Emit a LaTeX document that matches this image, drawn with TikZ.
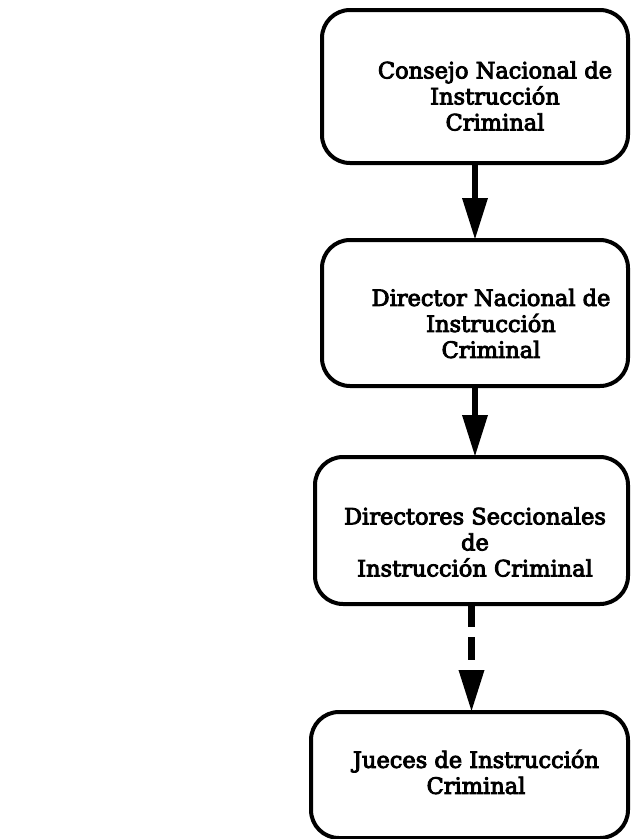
\documentclass[tikz,border=0pt]{standalone}
\usepackage{fontspec}
\setmainfont[FakeBold=4]{DejaVu Serif}
\usetikzlibrary{arrows.meta}

\tikzset{
  orgbox/.style={draw=black, line width=4pt, rounded corners=28pt,
    rectangle, inner sep=0pt, outer sep=0pt},
  orgtext/.style={align=center, inner sep=0pt,
    font=\fontsize{22.5}{26}\selectfont},
  link/.style={line width=6.5pt, draw=black},
  headtip/.style={-{Triangle[width=24pt,length=42pt]}},
}

\begin{document}
\begin{tikzpicture}[x=1pt, y=-1pt]
  \useasboundingbox (0,0) rectangle (630,839);

  % the four levels of the hierarchy
  \node[orgbox, minimum width=306pt, minimum height=153pt] (b1) at (475,86.5) {};
  \node[orgbox, minimum width=306pt, minimum height=146pt] (b2) at (475,313) {};
  \node[orgbox, minimum width=313pt, minimum height=147pt] (b3) at (471.5,530.5) {};
  \node[orgbox, minimum width=317pt, minimum height=126pt] (b4) at (469.5,775) {};

  \node[orgtext] (t1) at (495,96) {Consejo Nacional de\\Instrucción\\Criminal};
  \node[orgtext] (t2) at (491,323.5) {Director Nacional de\\Instrucción\\Criminal};
  \node[orgtext] (t3) at (475,542) {Directores Seccionales\\de\\Instrucción Criminal};
  \node[orgtext] (t4) at (476,772) {Jueces de Instrucción\\Criminal};

  % connectors
  \draw[link, headtip] (b1.south) -- (b2.north);
  \draw[link, headtip] (b2.south) -- (b2.south |- b3.north);
  \draw[link, dash pattern=on 23pt off 10pt, headtip]
    (b3.south) -- (b3.south |- b4.north);
\end{tikzpicture}
\end{document}
